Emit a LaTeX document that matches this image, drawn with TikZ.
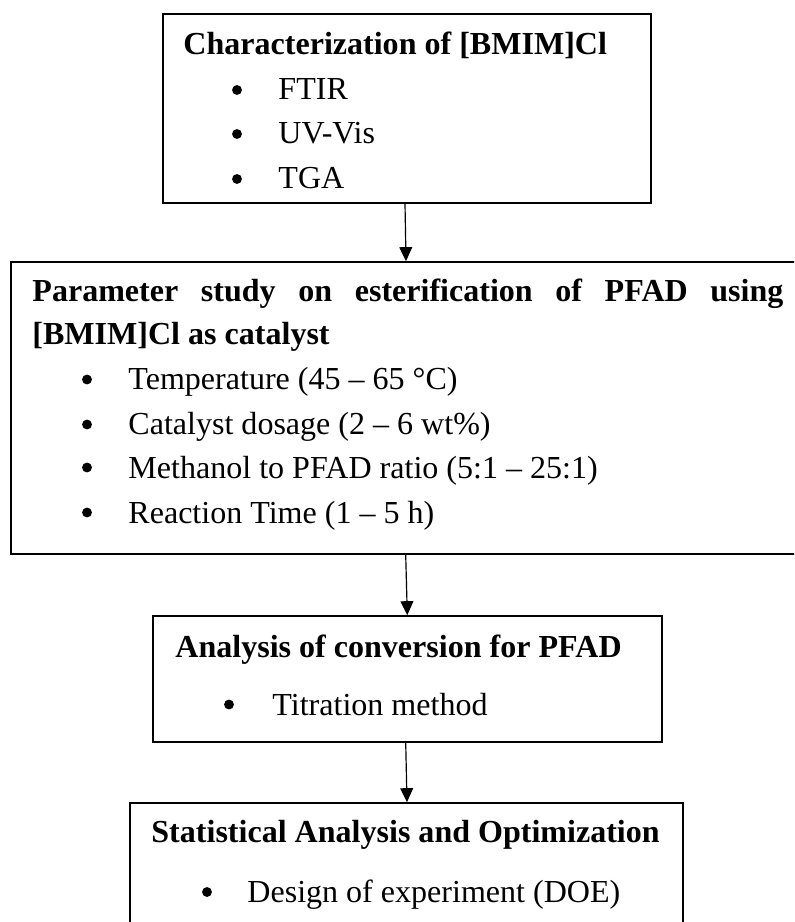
\documentclass[tikz,border=0pt]{standalone}
\usepackage{fontspec}
\setmainfont{Liberation Serif}
\usetikzlibrary{arrows.meta,fit}
\newcommand\bodysize{\fontsize{14.9pt}{17pt}\selectfont}
\begin{document}
\begin{tikzpicture}[x=0.465pt,y=-0.465pt,
  box/.style={draw, line width=0.8pt, inner sep=0pt},
  head/.style={anchor=base west, inner sep=0pt, font=\bodysize\bfseries},
  item/.style={anchor=base west, inner sep=0pt, font=\bodysize},
  dot/.style={circle, fill, inner sep=0pt, minimum size=4.6pt},
  flow/.style={line width=0.55pt, -{Triangle[width=6pt,length=6.5pt]}}]
\useasboundingbox (0,0) rectangle (794,922);
\clip (0,0) rectangle (794,922);

% frames
\node[box, fit={(163,14) (651,203)}] (b1) {};
\node[box, fit={(11,262) (805,554)}] (b2) {};
\node[box, fit={(153,616) (662,742)}] (b3) {};
\node[box, fit={(130,803) (683,935)}] (b4) {};

% characterization
\node[head] (t1) at (183,55) {Characterization of [BMIM]Cl};
\node[dot] (d11) at (237,90) {};
\node[item] (i11) at (278,100) {FTIR};
\node[dot] (d12) at (237,134) {};
\node[item] (i12) at (278,144) {UV-Vis};
\node[dot] (d13) at (237,179) {};
\node[item] (i13) at (278,189) {TGA};

% parameter study
\node[head] (t2a) at (32,302) {\makebox[349.2pt][s]{Parameter study on esterification of PFAD using}};
\node[head] (t2b) at (32,345) {[BMIM]Cl as catalyst};
\node[dot] (d21) at (87,379.5) {};
\node[item] (i21) at (128,390) {Temperature (45 – 65 °C)};
\node[dot] (d22) at (87,424.5) {};
\node[item] (i22) at (128,435) {Catalyst dosage (2 – 6 wt\%)};
\node[dot] (d23) at (87,467.5) {};
\node[item] (i23) at (128,478) {Methanol to PFAD ratio (5:1 – 25:1)};
\node[dot] (d24) at (87,512.5) {};
\node[item] (i24) at (128,523) {Reaction Time (1 – 5 h)};

% conversion analysis
\node[head] (t3) at (175,657) {Analysis of conversion for PFAD};
\node[dot] (d31) at (229,704.5) {};
\node[item] (i31) at (272,715) {Titration method};

% statistics
\node[head] (t4) at (151,842) {Statistical Analysis and Optimization};
\node[dot] (d41) at (207,892) {};
\node[item] (i41) at (247,902) {Design of experiment (DOE)};

% connectors
\coordinate (s1) at (405,0);
\coordinate (e1) at (406,0);
\coordinate (s2) at (405.7,0);
\coordinate (e2) at (407.3,0);
\coordinate (s3) at (405.7,0);
\coordinate (e3) at (407,0);
\draw[flow] (b1.south -| s1) -- (b2.north -| e1);
\draw[flow] (b2.south -| s2) -- (b3.north -| e2);
\draw[flow] (b3.south -| s3) -- (b4.north -| e3);
\end{tikzpicture}
\end{document}
